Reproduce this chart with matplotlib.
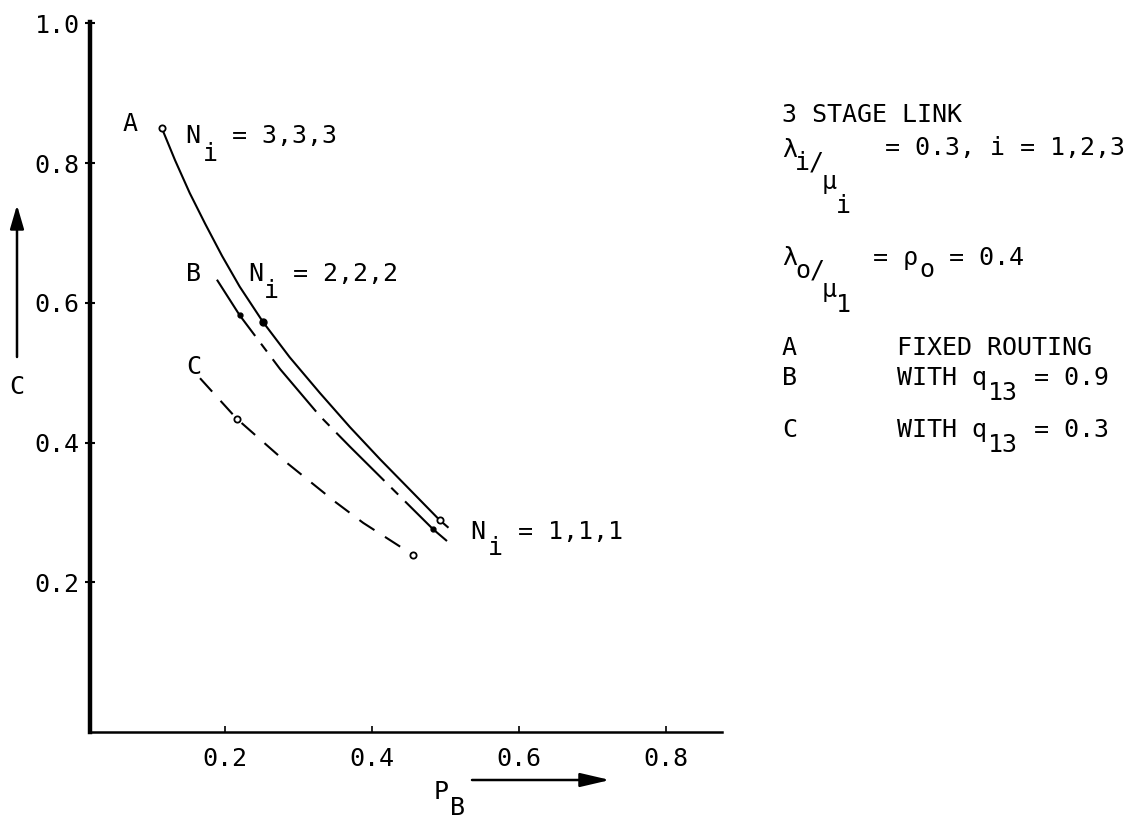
import numpy as np
import matplotlib
matplotlib.use("Agg")
import matplotlib.pyplot as plt

# nilai: P_B (sumbu x) dan C (sumbu y)
a_pb = [0.114, 0.132, 0.152, 0.173, 0.196, 0.220, 0.252, 0.288, 0.329, 0.370, 0.411, 0.452, 0.492, 0.503]
a_c = [0.850, 0.804, 0.757, 0.713, 0.667, 0.623, 0.572, 0.522, 0.471, 0.422, 0.376, 0.332, 0.289, 0.279]

b_pb = [0.189, 0.220, 0.245, 0.275, 0.329, 0.370, 0.438, 0.483, 0.502]
b_c = [0.633, 0.582, 0.547, 0.505, 0.438, 0.394, 0.323, 0.276, 0.259]

c_pb = [0.166, 0.216, 0.284, 0.350, 0.388, 0.456]
c_c = [0.492, 0.434, 0.371, 0.315, 0.285, 0.239]

# titik N_i = 3,3,3 / 2,2,2 / 1,1,1
a_open_pb = [0.114, 0.492]
a_open_c = [0.850, 0.289]
a_dot_pb = [0.252]
a_dot_c = [0.572]
b_dot_pb = [0.220, 0.483]
b_dot_c = [0.582, 0.276]
c_open_pb = [0.216, 0.456]
c_open_c = [0.434, 0.239]

x_ticks = [0.2, 0.4, 0.6, 0.8]
y_ticks = [0.2, 0.4, 0.6, 0.8, 1.0]

W, H = 1126, 821
FONT = ["DejaVu Sans Mono"]
FS = 18

plt.rcParams["lines.scale_dashes"] = False

fig = plt.figure(figsize=(W / 100, H / 100), dpi=100)
ax = fig.add_axes([90 / W, 1 - 732 / H, 632 / W, 710 / H])


def fx(px):
    return px / W


def fy(py):
    return 1 - py / H


def put(px, pyc, s, ha="left", fs=FS):
    # pyc = tengah huruf kapital, dikonversi ke baseline
    fig.text(fx(px), fy(pyc + 9), s, ha=ha, va="baseline",
             fontsize=fs, family=FONT, color="black")


# kurva
ax.plot(a_pb, a_c, color="black", lw=1.5)
ax.plot(b_pb, b_c, color="black", lw=1.5, dashes=(49, 7, 7, 7))
ax.plot(c_pb, c_c, color="black", lw=1.5, dashes=(13, 9))

ax.plot(a_open_pb, a_open_c, "o", ms=4.5, mfc="white", mec="black", mew=1.3)
ax.plot(a_dot_pb, a_dot_c, "o", ms=5, color="black")
ax.plot(b_dot_pb, b_dot_c, "o", ms=3.5, color="black")
ax.plot(c_open_pb, c_open_c, "o", ms=4.5, mfc="white", mec="black", mew=1.3)

# sumbu
ax.set_xlim(0.0163, 0.8762)
ax.set_ylim(-0.0143, 1.0018)
for s in ["top", "right"]:
    ax.spines[s].set_visible(False)
ax.spines["left"].set_linewidth(3.2)
ax.spines["bottom"].set_linewidth(1.8)
ax.set_xticks(x_ticks)
ax.set_xticklabels([f"{v:.1f}" for v in x_ticks])
ax.set_yticks(y_ticks)
ax.set_yticklabels([f"{v:.1f}" for v in y_ticks])
ax.tick_params(axis="x", direction="in", length=4, width=1.2, pad=11)
ax.tick_params(axis="y", direction="inout", length=7, width=1.5, pad=4)
for lab in ax.get_xticklabels() + ax.get_yticklabels():
    lab.set_family(FONT)
    lab.set_fontsize(FS)

# label kurva
put(130, 122, "A", ha="center")
put(185, 134, "N")
put(203, 152, "i")
put(232, 134, "= 3,3,3")
put(193, 272, "B", ha="center")
put(248, 272, "N")
put(264, 289, "i")
put(293, 272, "= 2,2,2")
put(194, 365, "C", ha="center")
put(470, 530, "N")
put(488, 546, "i")
put(518, 530, "= 1,1,1")

# label sumbu dengan panah
put(17, 385, "C", ha="center")
ax.annotate("", xy=(fx(17), fy(205)), xytext=(fx(17), fy(357)),
            xycoords="figure fraction", textcoords="figure fraction",
            annotation_clip=False,
            arrowprops=dict(arrowstyle="-|>,head_length=1.2,head_width=0.35",
                            lw=1.8, color="black", mutation_scale=12,
                            shrinkA=0, shrinkB=0))
put(441, 790, "P", ha="center")
put(457, 806, "B", ha="center")
ax.annotate("", xy=(fx(610), fy(780)), xytext=(fx(472), fy(780)),
            xycoords="figure fraction", textcoords="figure fraction",
            annotation_clip=False,
            arrowprops=dict(arrowstyle="-|>,head_length=1.5,head_width=0.35",
                            lw=1.8, color="black", mutation_scale=12,
                            shrinkA=0, shrinkB=0))

# keterangan di kanan
put(782, 113, "3 STAGE LINK")
put(782, 148, "λ")
put(795, 160, "i/")
put(822, 180, "μ")
put(836, 204, "i")
put(885, 146, "= 0.3, i = 1,2,3")
put(782, 256, "λ")
put(795, 268, "o/")
put(822, 288, "μ")
put(836, 303, "1")
put(873, 256, "= ρ")
put(919, 268, "o")
put(949, 256, "= 0.4")
put(782, 346, "A")
put(897, 346, "FIXED ROUTING")
put(782, 376, "B")
put(897, 376, "WITH q")
put(988, 391, "13")
put(1034, 376, "= 0.9")
put(782, 428, "C")
put(897, 428, "WITH q")
put(988, 443, "13")
put(1034, 428, "= 0.3")

fig.savefig("out.png", dpi=100)
